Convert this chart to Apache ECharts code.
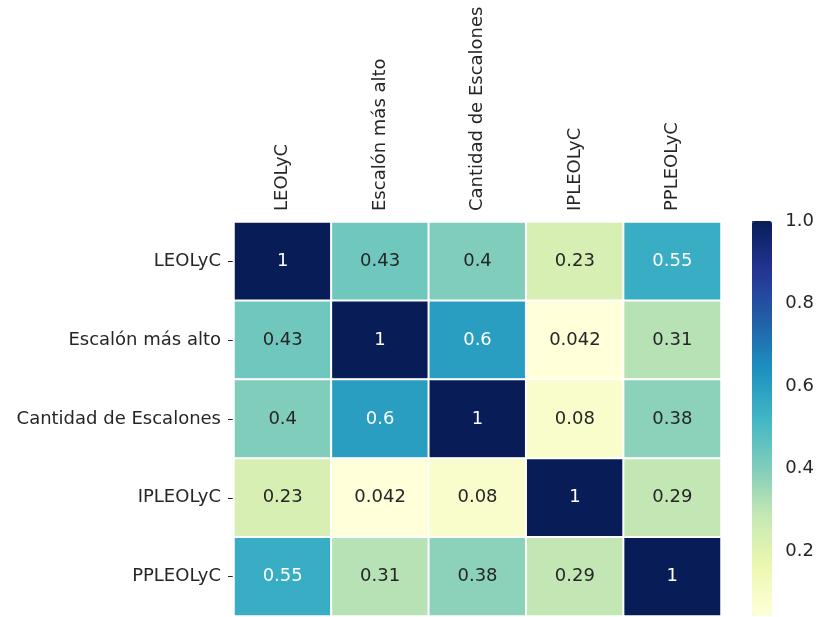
<!DOCTYPE html>
<html>
<head>
<meta charset="utf-8">
<script src="https://cdn.jsdelivr.net/npm/echarts@6/dist/echarts.min.js"></script>
<style>
  html, body { margin: 0; padding: 0; background: #fff; }
  #chart { width: 817px; height: 617px; }
</style>
</head>
<body>
<div id="chart"></div>
<script>
// Correlation matrix between the measured variables
const variables = ['LEOLyC', 'Escalón más alto', 'Cantidad de Escalones', 'IPLEOLyC', 'PPLEOLyC'];
const rowLEOLyC    = [1, 0.43, 0.4, 0.23, 0.55];
const rowEscalon   = [0.43, 1, 0.6, 0.042, 0.31];
const rowCantidad  = [0.4, 0.6, 1, 0.08, 0.38];
const rowIPLEOLyC  = [0.23, 0.042, 0.08, 1, 0.29];
const rowPPLEOLyC  = [0.55, 0.31, 0.38, 0.29, 1];
const colorbarTicks = [0.2, 0.4, 0.6, 0.8, 1.0];

const rows = [rowLEOLyC, rowEscalon, rowCantidad, rowIPLEOLyC, rowPPLEOLyC];
const cells = [];
rows.forEach((row, r) => row.forEach((v, c) => cells.push([c, r, v])));
const allValues = cells.map(d => d[2]);
const vmin = Math.min(...allValues);
const vmax = Math.max(...allValues);

// YlGnBu colour ramp
const ylgnbu = ['#ffffd9', '#edf8b1', '#c7e9b4', '#7fcdbb', '#41b6c4', '#1d91c0', '#225ea8', '#253494', '#081d58'];

const FONT = 'DejaVu Sans';
const FS = 18;
const TEXT = '#262626';

const chart = echarts.init(document.getElementById('chart'), null, { renderer: 'canvas' });
chart.setOption({
  backgroundColor: '#fff',
  animation: false,
  grid: [
    { left: 234, top: 222, width: 487, height: 394 },
    { left: 752, top: 221, width: 20, height: 395 }
  ],
  xAxis: [
    {
      type: 'category', data: variables, position: 'top', gridIndex: 0,
      axisLine: { show: false }, axisTick: { show: false }, splitLine: { show: false },
      axisLabel: { rotate: -90, margin: 11, color: TEXT, fontFamily: FONT, fontSize: FS, interval: 0 }
    },
    { type: 'value', gridIndex: 1, show: false, min: 0, max: 1 }
  ],
  yAxis: [
    {
      type: 'category', data: variables, inverse: true, gridIndex: 0,
      axisLine: { show: false },
      axisTick: { show: true, alignWithLabel: true, length: 6, lineStyle: { color: TEXT, width: 1 } },
      splitLine: { show: false },
      axisLabel: { margin: 13, color: TEXT, fontFamily: FONT, fontSize: FS, interval: 0 }
    },
    {
      type: 'value', gridIndex: 1, position: 'right', min: vmin, max: vmax,
      axisLine: { show: false }, splitLine: { show: false },
      axisTick: { show: true, length: 6, customValues: colorbarTicks, lineStyle: { color: TEXT, width: 1 } },
      axisLabel: {
        margin: 14, color: TEXT, fontFamily: FONT, fontSize: FS,
        customValues: colorbarTicks, formatter: v => v.toFixed(1)
      }
    }
  ],
  visualMap: {
    type: 'continuous', min: vmin, max: vmax, seriesIndex: 0,
    orient: 'vertical', left: 752, top: 221, padding: 0,
    itemWidth: 20, itemHeight: 395, calculable: false, text: null,
    showLabel: false,
    inRange: { color: ylgnbu }
  },
  series: [{
    type: 'heatmap', xAxisIndex: 0, yAxisIndex: 0,
    data: cells.map(d => ({ value: d, label: { color: d[2] > 0.5 ? '#ffffff' : TEXT } })),
    itemStyle: { borderColor: '#fff', borderWidth: 2 },
    emphasis: { disabled: true },
    label: {
      show: true, fontFamily: FONT, fontSize: FS,
      formatter: p => String(p.value[2])
    }
  }]
});
</script>
</body>
</html>
